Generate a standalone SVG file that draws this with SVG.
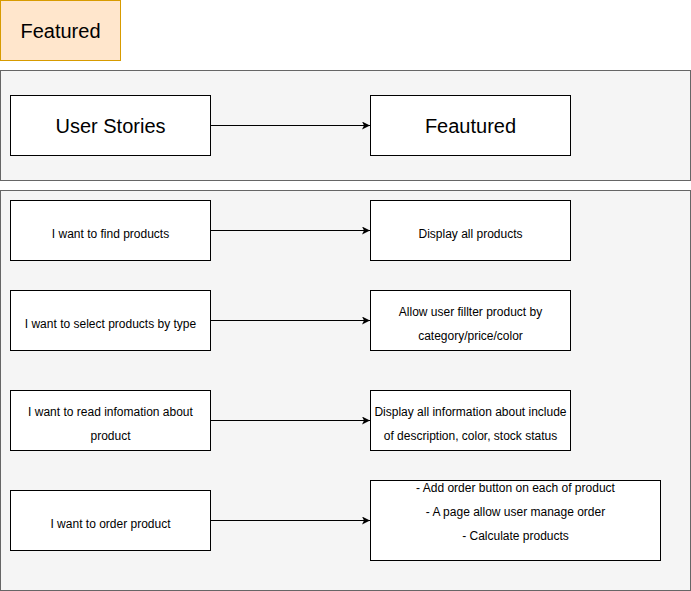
<svg xmlns="http://www.w3.org/2000/svg" width="691" height="591" viewBox="0 0 691 591">
<defs>
<style>
.c{fill:#f5f5f5;stroke:#666666;stroke-width:1}
.b{fill:#ffffff;stroke:#000000;stroke-width:1}
text{font-family:"Liberation Sans",Arial,Helvetica,sans-serif;fill:#000000;text-anchor:middle;dominant-baseline:central}
.s{font-size:12px}
.l{font-size:20px}
.e{fill:none;stroke:#000000;stroke-width:1}
</style>
<marker id="ah" viewBox="0 0 10 10" refX="10" refY="5" markerWidth="8" markerHeight="8" markerUnits="userSpaceOnUse" orient="auto">
<path d="M0,0 L10,5 L0,10 L2.5,5 Z" fill="#000000"/>
</marker>
</defs>
<rect width="691" height="591" fill="#ffffff"/>
<g id="title">
<rect x="0.5" y="0.5" width="120" height="60" fill="#ffe6cc" stroke="#d79b00"/>
<text class="l" x="60.5" y="30.5">Featured</text>
</g>
<g id="container-top"><rect class="c" x="0.5" y="70.5" width="690" height="110"/></g>
<g id="container-bottom"><rect class="c" x="0.5" y="190.5" width="690" height="400"/></g>
<g id="user-stories"><rect class="b" x="10.5" y="95.5" width="200" height="60"/><text class="l" x="110.5" y="125.5">User Stories</text></g>
<g id="feautured"><rect class="b" x="370.5" y="95.5" width="200" height="60"/><text class="l" x="470.5" y="125.5">Feautured</text></g>
<g id="us1"><rect class="b" x="10.5" y="200.5" width="200" height="60"/><text class="s" x="110.5" y="233.5">I want to find products</text></g>
<g id="f1"><rect class="b" x="370.5" y="200.5" width="200" height="60"/><text class="s" x="470.5" y="233.5">Display all products</text></g>
<g id="us2"><rect class="b" x="10.5" y="290.5" width="200" height="60"/><text class="s" x="110.5" y="323.5">I want to select products by type</text></g>
<g id="f2"><rect class="b" x="370.5" y="290.5" width="200" height="60"/><text class="s" x="470.5" y="311.5">Allow user fillter product by</text><text class="s" x="470.5" y="335.5">category/price/color</text></g>
<g id="us3"><rect class="b" x="10.5" y="390.5" width="200" height="60"/><text class="s" x="110.5" y="411.5">I want to read infomation about</text><text class="s" x="110.5" y="435.5">product</text></g>
<g id="f3"><rect class="b" x="370.5" y="390.5" width="200" height="60"/><text class="s" x="470.5" y="411.5">Display all information about include</text><text class="s" x="470.5" y="435.5">of description, color, stock status</text></g>
<g id="us4"><rect class="b" x="10.5" y="490.5" width="200" height="60"/><text class="s" x="110.5" y="523.5">I want to order product</text></g>
<g id="f4"><rect class="b" x="370.5" y="480.5" width="290" height="80"/><text class="s" x="515.5" y="487.5">- Add order button on each of product</text><text class="s" x="515.5" y="511.5">- A page allow user manage order</text><text class="s" x="515.5" y="535.5">- Calculate products</text></g>
<g id="connectors">
<path class="e" d="M210.5,125.5 L370,125.5" marker-end="url(#ah)"/>
<path class="e" d="M210.5,230.5 L370,230.5" marker-end="url(#ah)"/>
<path class="e" d="M210.5,320.5 L370,320.5" marker-end="url(#ah)"/>
<path class="e" d="M210.5,420.5 L370,420.5" marker-end="url(#ah)"/>
<path class="e" d="M210.5,520.5 L370,520.5" marker-end="url(#ah)"/>
</g>
</svg>
